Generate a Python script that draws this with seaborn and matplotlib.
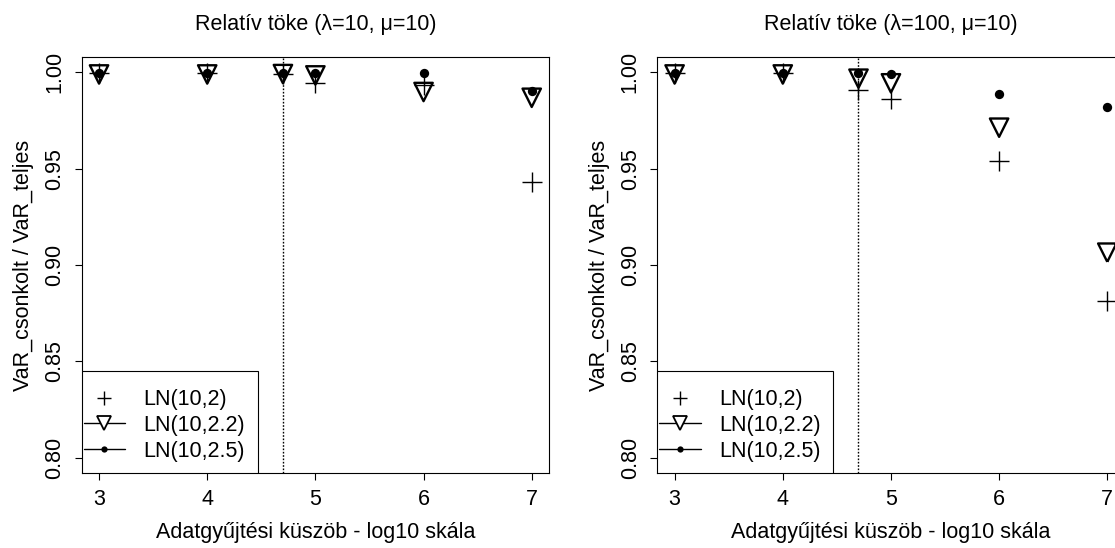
import matplotlib
matplotlib.use("Agg")
import matplotlib.pyplot as plt
import seaborn as sns
import pandas as pd
from matplotlib.lines import Line2D
from matplotlib.patches import Rectangle

# Collection thresholds (log10 scale); 4.7 is the reference cut-off log10(50000)
thresholds = [3, 4, 4.7, 5, 6, 7]
cutoff = 4.7

series_labels = ["LN(10,2)", "LN(10,2.2)", "LN(10,2.5)"]

# VaR ratio (truncated / full), lambda = 10
lam10_ln2 = [0.9993, 0.9993, 0.9992, 0.9942, 0.9931, 0.9431]
lam10_ln22 = [0.9988, 0.9988, 0.9990, 0.9983, 0.9897, 0.9867]
lam10_ln25 = [0.9997, 0.9997, 0.9996, 0.9993, 0.9998, 0.9903]

# VaR ratio (truncated / full), lambda = 100
lam100_ln2 = [0.9995, 0.9995, 0.9909, 0.9860, 0.9538, 0.8811]
lam100_ln22 = [0.9988, 0.9988, 0.9966, 0.9942, 0.9712, 0.9064]
lam100_ln25 = [0.9998, 0.9998, 0.9996, 0.9990, 0.9888, 0.9819]

panel_titles = ["Relatív töke (λ=10, μ=10)", "Relatív töke (λ=100, μ=10)"]
x_label = "Adatgyűjtési küszöb - log10 skála"
y_label = "VaR_csonkolt / VaR_teljes"
x_ticks = [3, 4, 5, 6, 7]
y_ticks = [0.80, 0.85, 0.90, 0.95, 1.00]

sns.set_theme(style="white")
plt.rcParams["font.family"] = ["Liberation Sans", "DejaVu Sans"]
plt.rcParams.update({
    "axes.edgecolor": "black",
    "axes.linewidth": 0.8,
    "xtick.color": "black",
    "ytick.color": "black",
    "xtick.direction": "out",
    "ytick.direction": "out",
    "xtick.major.size": 5,
    "ytick.major.size": 5,
    "xtick.major.width": 0.8,
    "ytick.major.width": 0.8,
    "xtick.bottom": True,
    "ytick.left": True,
    "text.color": "black",
    "axes.labelcolor": "black",
})

FS = 15.5

fig = plt.figure(figsize=(11.15, 5.48), dpi=100)
ax_left = fig.add_axes([0.0733, 0.1363, 0.4191, 0.7602])
ax_right = fig.add_axes([0.5895, 0.1363, 0.4191, 0.7602])

panels = [
    (ax_left, [lam10_ln2, lam10_ln22, lam10_ln25], panel_titles[0]),
    (ax_right, [lam100_ln2, lam100_ln22, lam100_ln25], panel_titles[1]),
]

for ax, (s_plus, s_tri, s_dot), title in panels:
    ax.axvline(cutoff, color="black", linestyle=(0, (1.2, 1.2)), linewidth=1.0, zorder=1)

    df = pd.DataFrame({"x": thresholds, "plus": s_plus, "tri": s_tri, "dot": s_dot})
    sns.scatterplot(data=df, x="x", y="plus", marker="+", s=210, color="black",
                    linewidth=1.0, ax=ax, zorder=3)
    sns.scatterplot(data=df, x="x", y="tri", marker="v", s=175, facecolor="none",
                    edgecolor="black", linewidth=1.7, ax=ax, zorder=3)
    sns.scatterplot(data=df, x="x", y="dot", marker="o", s=45, color="black",
                    linewidth=0, ax=ax, zorder=4)

    ax.set_xlim(2.84, 7.16)
    ax.set_ylim(0.792, 1.008)
    ax.set_xticks(x_ticks)
    ax.set_xticklabels([str(t) for t in x_ticks], fontsize=FS)
    ax.set_yticks(y_ticks)
    ax.set_yticklabels([f"{t:.2f}" for t in y_ticks], fontsize=FS,
                       rotation=90, va="center")
    ax.tick_params(axis="x", pad=6)
    ax.tick_params(axis="y", pad=7)
    ax.set_xlabel(x_label, fontsize=FS, labelpad=9)
    ax.set_ylabel(y_label, fontsize=FS, labelpad=7)
    ax.set_title(title, fontsize=FS, pad=19)
    for sp in ax.spines.values():
        sp.set_visible(True)
        sp.set_color("black")
        sp.set_linewidth(0.8)

    # legend: framed box in the lower-left corner
    box = Rectangle((0, 0), 0.3766, 0.2456, transform=ax.transAxes,
                    facecolor="white", edgecolor="black", linewidth=0.8, zorder=5)
    ax.add_patch(box)
    handles = [
        Line2D([], [], linestyle="none", marker="+", markersize=10,
               markeredgewidth=1.0, color="black"),
        Line2D([], [], color="black", linewidth=1.0, marker="v", markersize=9.5,
               markerfacecolor="white", markeredgecolor="black", markeredgewidth=1.3),
        Line2D([], [], color="black", linewidth=1.0, marker="o", markersize=4.5,
               markerfacecolor="black", markeredgewidth=0),
    ]
    leg = ax.legend(handles, series_labels, loc="center left",
                    bbox_to_anchor=(0.004, 0.115), frameon=False, fontsize=FS,
                    handlelength=1.93, handletextpad=0.84, labelspacing=0.22,
                    borderpad=0, borderaxespad=0)
    leg.set_zorder(6)

fig.savefig("out.png", dpi=100, facecolor="white")
